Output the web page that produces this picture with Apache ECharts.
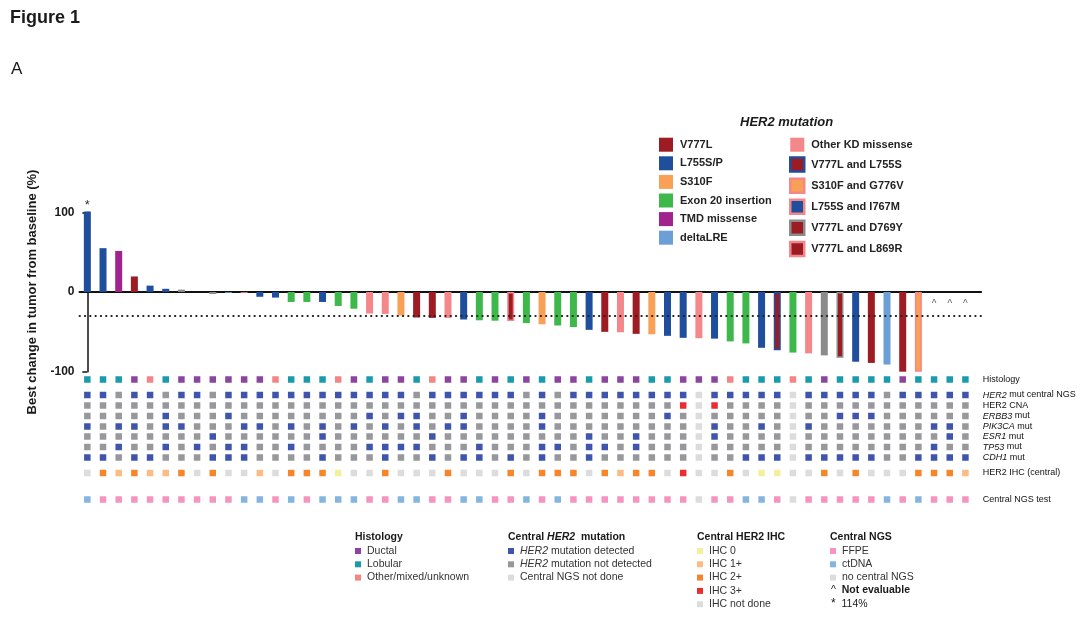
<!DOCTYPE html>
<html><head><meta charset="utf-8">
<script src="https://cdn.jsdelivr.net/npm/echarts@6/dist/echarts.min.js"></script>
<style>html,body{margin:0;padding:0;background:#fff}#c{width:1080px;height:622px}</style>
</head><body><div id="c"></div>
<script>
// ---------------- DATA ----------------
const patientIds = ['P01','P02','P03','P04','P05','P06','P07','P08','P09','P10','P11','P12','P13','P14','P15','P16','P17','P18','P19','P20','P21','P22','P23','P24','P25','P26','P27','P28','P29','P30','P31','P32','P33','P34','P35','P36','P37','P38','P39','P40','P41','P42','P43','P44','P45','P46','P47','P48','P49','P50','P51','P52','P53','P54','P55','P56','P57'];
// best change in tumor from baseline (%), null = not evaluable
const bestChange = [101,55,51.5,19.5,8,4,3,0,-2.5,-1,-1,-6,-7,-12.5,-12.5,-12.5,-17.5,-21,-27,
  -27.5,-29.5,-32,-32.5,-32.5,-34.5,-35.5,-36,-36.5,-39,-40.5,-42,-44,-47.5,-50,-50.5,-52.5,-53,-55,
  -57.5,-58,-58.5,-62,-64.5,-70,-73,-76,-77,-79.5,-82.5,-87.5,-89,-91,-100,-100,null,null,null];
const her2Mutation = ['L755S/P','L755S/P','TMD missense','V777L','L755S/P','L755S/P','None','None','None','deltaLRE','Other KD missense','L755S/P','L755S/P','Exon 20 insertion','Exon 20 insertion','L755S/P','Exon 20 insertion','Exon 20 insertion','Other KD missense',
  'Other KD missense','S310F','V777L','V777L','Other KD missense','L755S/P','Exon 20 insertion','Exon 20 insertion','V777L and L869R','Exon 20 insertion','S310F','Exon 20 insertion','Exon 20 insertion','L755S/P','V777L','Other KD missense','V777L','S310F','L755S/P',
  'L755S/P','Other KD missense','L755S/P','Exon 20 insertion','Exon 20 insertion','L755S/P','V777L and L755S','Exon 20 insertion','Other KD missense','None','V777L and D769Y','L755S/P','V777L','deltaLRE','V777L','S310F and G776V',null,null,null];
const asteriskCols = [0];          // capped value (114%)
const notEvaluableCols = [54,55,56];
const yTicks = [-100, 0, 100];
const responseThreshold = -30;

// histology: D ductal, L lobular, O other/mixed/unknown
const histology = ['L','L','L','D','O','L','D','D','D','D','D','D','O','L','L','L','O','D','L',
  'D','D','L','O','D','D','L','D','L','D','L','D','D','L','D','D','D','L','L',
  'D','D','D','O','L','L','L','O','L','D','L','L','L','L','D','L','L','L','L'];
// 1 detected, 0 not detected, null not done
const her2MutCentral = [1,1,0,1,1,0,1,1,0,1,1,1,1,1,1,1,1,1,1,
  1,1,0,1,1,1,1,1,1,0,1,0,1,1,1,1,1,1,1,
  1,null,1,1,1,1,1,null,1,1,1,1,1,0,1,1,1,1,1];
const her2CNA = [0,0,0,0,0,0,0,0,0,0,0,0,0,0,0,0,0,0,0,
  0,0,0,0,0,0,0,0,0,0,0,0,0,0,0,0,0,0,0,
  1,null,1,0,0,0,0,null,0,0,0,0,0,0,0,0,0,0,0];
const erbb3Mut = [0,0,0,0,0,1,0,0,0,1,0,0,0,0,0,0,0,0,1,
  0,1,1,0,0,1,0,0,0,0,1,0,0,0,0,0,0,0,1,
  0,null,0,0,0,0,0,null,0,0,1,1,1,0,0,0,0,0,0];
const pik3caMut = [1,0,1,1,0,1,1,0,0,0,1,1,0,1,0,1,0,1,0,
  1,0,1,0,1,1,0,0,0,0,1,0,0,0,0,0,0,0,0,
  0,null,1,0,0,1,0,null,1,0,0,0,0,0,0,0,1,1,0];
const esr1Mut = [0,0,0,0,0,0,0,0,1,0,0,0,0,0,0,1,0,0,0,
  0,0,0,1,0,0,0,0,0,0,0,0,0,1,0,0,1,0,0,
  0,null,1,0,0,0,0,null,0,0,0,0,0,0,0,0,0,1,0];
const tp53Mut = [0,0,1,0,0,1,0,1,0,1,1,0,0,1,0,0,0,0,1,
  1,1,1,0,0,0,1,0,0,0,1,1,0,1,1,0,1,0,0,
  0,null,0,0,0,0,0,null,0,0,0,0,0,0,0,0,1,0,0];
const cdh1Mut = [1,1,0,1,1,0,0,0,1,1,1,0,0,0,0,1,0,0,0,
  1,0,0,1,0,1,1,0,1,0,1,0,0,1,0,0,0,0,0,
  0,null,0,0,1,1,1,null,1,1,1,1,1,0,0,1,1,1,1];
// central HER2 IHC: '0','1+','2+','3+', 'ND' not done
const her2IHC = ['ND','2+','1+','2+','1+','1+','2+','ND','2+','ND','ND','1+','ND','2+','2+','2+','0','ND','ND',
  '2+','ND','ND','ND','2+','ND','ND','ND','2+','ND','2+','2+','2+','ND','2+','1+','2+','2+','ND',
  '3+','ND','ND','2+','ND','0','0','ND','ND','2+','ND','2+','ND','ND','ND','2+','2+','2+','1+'];
// central NGS test: F FFPE, C ctDNA, N none
const ngsTest = ['C','F','F','F','F','F','F','F','F','F','C','C','F','C','F','C','C','C','F',
  'F','C','C','F','F','C','C','F','F','C','F','C','F','F','F','F','F','F','F',
  'F','N','F','F','C','C','F','N','F','F','F','F','F','C','F','C','F','F','F'];

const rowLabels = ['Histology','{i|HER2} mut central NGS','HER2 CNA','{i|ERBB3} mut','{i|PIK3CA} mut','{i|ESR1} mut','{i|TP53} mut','{i|CDH1} mut','HER2 IHC (central)','Central NGS test'];

// ---------------- STYLE ----------------
const F = 'Liberation Sans, Arial, Helvetica, sans-serif';
const C = {
  'V777L':'#9d1c23','L755S/P':'#1f4e9d','S310F':'#f8a156','Exon 20 insertion':'#3fb84b',
  'TMD missense':'#a1248e','deltaLRE':'#6b9fd6','Other KD missense':'#f4878a','None':'#8b8b8b'
};
const combos = {
  'V777L and L755S':['V777L','L755S/P'],
  'S310F and G776V':['S310F','Other KD missense'],
  'L755S and I767M':['L755S/P','Other KD missense'],
  'V777L and D769Y':['V777L','None'],
  'V777L and L869R':['V777L','Other KD missense']
};
const legendLeft = ['V777L','L755S/P','S310F','Exon 20 insertion','TMD missense','deltaLRE'];
const legendRight = ['Other KD missense','V777L and L755S','S310F and G776V','L755S and I767M','V777L and D769Y','V777L and L869R'];
const mutTypes = legendLeft.concat(legendRight, ['None']);

const cellColors = {
  'Ductal':'#8b45a0','Lobular':'#1a9bad','Other/mixed/unknown':'#f38584',
  'HER2 mutation detected':'#3f55ab','HER2 mutation not detected':'#97989c','Central NGS not done':'#dcdcdc',
  'HER2 amplified':'#ec2d30',
  'IHC 0':'#f3ef9c','IHC 1+':'#fdbb84','IHC 2+':'#f5862b','IHC 3+':'#ec2d30','IHC not done':'#dcdcdc',
  'FFPE':'#f594c0','ctDNA':'#84b5e0','no central NGS':'#dcdcdc'
};
const rowOffsets = [7.5, 23, 33.5, 44, 54.5, 64.5, 75, 85.5, 101, 127.5];

const histName = {D:'Ductal', L:'Lobular', O:'Other/mixed/unknown'};
const mutName = v => v === 1 ? 'HER2 mutation detected' : (v === 0 ? 'HER2 mutation not detected' : 'Central NGS not done');
const cnaName = v => v === 1 ? 'HER2 amplified' : mutName(v);
const ihcName = {'0':'IHC 0','1+':'IHC 1+','2+':'IHC 2+','3+':'IHC 3+','ND':'IHC not done'};
const ngsName = {F:'FFPE', C:'ctDNA', N:'no central NGS'};

const rowGetters = [
  i => histName[histology[i]],
  i => mutName(her2MutCentral[i]),
  i => cnaName(her2CNA[i]),
  i => mutName(erbb3Mut[i]),
  i => mutName(pik3caMut[i]),
  i => mutName(esr1Mut[i]),
  i => mutName(tp53Mut[i]),
  i => mutName(cdh1Mut[i]),
  i => ihcName[her2IHC[i]],
  i => ngsName[ngsTest[i]]
];

// ---------------- SERIES ----------------
const series = [];
mutTypes.forEach((t, si) => {
  const data = [];
  her2Mutation.forEach((m, i) => {
    if (m === t) {
      const item = {value: [i, bestChange[i]]};
      if (asteriskCols.includes(i)) item.label = {show: true, formatter: '*', position: 'top', distance: 0, fontSize: 13, color: '#333', fontFamily: F};
      data.push(item);
    }
  });
  const combo = combos[t];
  const s = {
    type: 'bar', name: t, xAxisIndex: 0, yAxisIndex: 0, barWidth: 7, barGap: '-100%', clip: false,
    data: data, emphasis: {disabled: true},
    itemStyle: combo ? {color: C[combo[0]], borderColor: C[combo[1]], borderWidth: 1.5, opacity: 1} : {color: C[t], opacity: 1}
  };
  if (si === 0) {
    s.markLine = {silent: true, symbol: 'none', label: {show: false},
      lineStyle: {color: '#222', width: 1.8, type: [0.5, 4.8], cap: 'round', opacity: 1},
      data: [{yAxis: responseThreshold}]};
  }
  series.push(s);
});
series.push({
  type: 'scatter', name: 'Not evaluable', xAxisIndex: 0, yAxisIndex: 0, symbol: 'rect', symbolSize: 1,
  itemStyle: {color: 'rgba(0,0,0,0)'}, silent: true,
  data: notEvaluableCols.map(i => [i, 0]),
  label: {show: true, formatter: '^', position: 'bottom', distance: 7, fontSize: 10, color: '#333', fontFamily: F}
});

const cellSeries = {};
Object.keys(cellColors).forEach(n => {
  cellSeries[n] = {type: 'scatter', name: n, xAxisIndex: 1, yAxisIndex: 1, symbol: 'rect', symbolSize: 6.5,
    itemStyle: {color: cellColors[n], opacity: 1}, emphasis: {disabled: true}, data: []};
});
rowGetters.forEach((get, r) => {
  patientIds.forEach((id, i) => {
    const item = {value: [i, rowOffsets[r]]};
    if (i === patientIds.length - 1) {
      item.label = {show: true, position: 'right', distance: 14, formatter: rowLabels[r],
        fontSize: 9, color: '#111', fontFamily: F,
        rich: {i: {fontStyle: 'italic', fontSize: 9, color: '#111', fontFamily: F}}};
    }
    cellSeries[get(i)].data.push(item);
  });
});
Object.values(cellSeries).forEach(s => series.push(s));

// ---------------- OPTION ----------------
const gridLeft = 79.5, colW = 15.68;
const xMin = -0.5, xMax = 57;
const gridW = (xMax - xMin) * colW;

const legendTop = (names, left) => ({
  left: left, top: 137.7, orient: 'vertical', padding: 0, icon: 'rect', itemWidth: 14, itemHeight: 14, itemGap: 4.6,
  selectedMode: false,
  data: names.map(n => combos[n]
    ? {name: n, itemStyle: {color: C[combos[n][0]], borderColor: C[combos[n][1]], borderWidth: 2.5}}
    : {name: n}),
  textStyle: {fontFamily: F, fontSize: 11, fontWeight: 'bold', color: '#222', lineHeight: 14, padding: [0, 0, 0, 2]}
});
const legendBottom = (names, left) => ({
  left: left, top: 545, orient: 'vertical', padding: 0, icon: 'rect', itemWidth: 6, itemHeight: 6, itemGap: 1.3,
  selectedMode: false, data: names,
  itemStyle: {opacity: 1},
  formatter: n => n.replace('HER2', '{i|HER2}'),
  textStyle: {fontFamily: F, fontSize: 10.5, color: '#333', lineHeight: 12, padding: [0, 0, 0, 1],
    rich: {i: {fontFamily: F, fontSize: 10.5, color: '#333', fontStyle: 'italic', lineHeight: 12}}}
});
const ttl = (text, left, top, size, extra) => Object.assign({
  text: text, left: left, top: top, padding: 0,
  textStyle: Object.assign({fontFamily: F, fontSize: size, color: '#1a1a1a', fontWeight: 'bold',
    rich: {i: {fontFamily: F, fontSize: size, fontWeight: 'bold', fontStyle: 'italic', color: '#1a1a1a'},
           b: {fontFamily: F, fontSize: size, fontWeight: 'bold', color: '#1a1a1a'},
           n: {fontFamily: F, fontSize: size, fontWeight: 'normal', color: '#1a1a1a'}}}, extra || {})
});

const option = {
  animation: false,
  backgroundColor: '#fff',
  textStyle: {fontFamily: F},
  title: [
    ttl('Figure 1', 10, 9, 18),
    ttl('A', 11, 61, 17, {fontWeight: 'normal'}),
    ttl('HER2 mutation', 740, 116, 13, {fontStyle: 'italic'}),
    ttl('Histology', 355, 532, 10.5),
    ttl('Central {i|HER2}  mutation', 508, 532, 10.5),
    ttl('Central HER2 IHC', 697, 532, 10.5),
    ttl('Central NGS', 830, 532, 10.5),
    ttl('^  {b|Not evaluable}', 831, 585, 10.5, {fontWeight: 'normal'}),
    ttl('{s|*}  {n|114%}', 831, 598, 10.5, {fontWeight: 'normal', rich: {
      s: {fontFamily: F, fontSize: 12, color: '#1a1a1a'},
      n: {fontFamily: F, fontSize: 10.5, color: '#1a1a1a'}}})
  ],
  legend: [
    legendTop(legendLeft, 659),
    legendTop(legendRight, 789),
    legendBottom(['Ductal','Lobular','Other/mixed/unknown'], 355),
    legendBottom(['HER2 mutation detected','HER2 mutation not detected','Central NGS not done'], 508),
    legendBottom(['IHC 0','IHC 1+','IHC 2+','IHC 3+','IHC not done'], 697),
    legendBottom(['FFPE','ctDNA','no central NGS'], 830)
  ],
  grid: [
    {left: gridLeft, width: gridW, top: 212.3, height: 159.4, outerBoundsMode: 'none', containLabel: false},
    {left: gridLeft, width: gridW, top: 372, height: 135, outerBoundsMode: 'none', containLabel: false}
  ],
  xAxis: [
    {type: 'value', gridIndex: 0, min: xMin, max: xMax, splitLine: {show: false},
      axisLine: {show: true, onZero: true, lineStyle: {color: '#111', width: 2}},
      axisTick: {show: false}, axisLabel: {show: false}},
    {type: 'value', gridIndex: 1, min: xMin, max: xMax, show: false, splitLine: {show: false}}
  ],
  yAxis: [
    {type: 'value', gridIndex: 0, min: yTicks[0], max: yTicks[yTicks.length - 1], interval: 100,
      splitLine: {show: false},
      axisLine: {show: true, lineStyle: {color: '#111', width: 1.5}},
      axisTick: {show: true, length: 5, lineStyle: {color: '#111', width: 1.5}},
      axisLabel: {fontFamily: F, fontSize: 12, fontWeight: 'bold', color: '#1a1a1a', margin: 5},
      name: 'Best change in tumor from baseline (%)', nameLocation: 'middle', nameGap: 41,
      nameTextStyle: {fontFamily: F, fontSize: 13, fontWeight: 'bold', color: '#1a1a1a'}},
    {type: 'value', gridIndex: 1, min: 0, max: 135, inverse: true, show: false, splitLine: {show: false}}
  ],
  series: series
};

const chart = echarts.init(document.getElementById('c'), null, {renderer: 'canvas'});
chart.setOption(option);
</script>
</body></html>
